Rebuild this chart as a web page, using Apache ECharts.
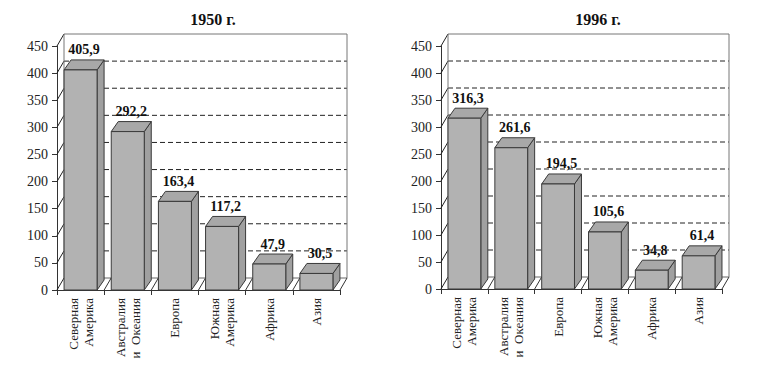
<!DOCTYPE html>
<html><head><meta charset="utf-8">
<script src="https://cdn.jsdelivr.net/npm/echarts@6/dist/echarts.min.js"></script>
<style>html,body{margin:0;padding:0;background:#fff}#c{width:769px;height:369px}</style>
</head><body><div id="c"></div>
<script>
const categories = ['Северная\nАмерика', 'Австралия\nи  Океания', 'Европа', 'Южная\nАмерика', 'Африка', 'Азия'];
const values1950 = [405.9, 292.2, 163.4, 117.2, 47.9, 30.5];
const values1996 = [316.3, 261.6, 194.5, 105.6, 34.8, 61.4];
const titles = ['1950 г.', '1996 г.'];
const yTicks = [0, 50, 100, 150, 200, 250, 300, 350, 400, 450];

const SERIF = 'Liberation Serif';
const WDX = 7, WDY = -12;   // wall depth
const BDX = 7, BDY = -10;   // bar depth
const FRONT = '#b2b2b2', TOP = '#a8a8a8', SIDE = '#a0a0a0', EDGE = '#3a3a3a';
const YMAX = yTicks[yTicks.length - 1];

function fmt(v) { return v.toFixed(1).replace('.', ','); }

function frameItem(params, api) {
  const v = api.value(1);
  const band = api.size([1, 0])[0];
  const n = categories.length;
  const p = api.coord([0, v]);
  const xl = p[0] - band / 2;
  const xr = xl + band * n;
  const y = p[1];
  const ch = [];
  ch.push({ type: 'line', shape: { x1: xl, y1: y, x2: xl + WDX, y2: y + WDY }, style: { stroke: '#222', lineWidth: 1 } });
  if (v === 0) {
    ch.push({ type: 'line', shape: { x1: xl + WDX, y1: y + WDY, x2: xr + WDX, y2: y + WDY }, style: { stroke: '#666', lineWidth: 1 } });
    for (let i = 1; i <= n; i++) {
      const x = xl + band * i;
      ch.push({ type: 'line', shape: { x1: x, y1: y, x2: x + WDX, y2: y + WDY }, style: { stroke: '#333', lineWidth: 1 } });
    }
  } else if (v === YMAX) {
    const y0 = api.coord([0, 0])[1];
    ch.push({ type: 'line', shape: { x1: xl + WDX, y1: y + WDY, x2: xr + WDX, y2: y + WDY }, style: { stroke: '#777', lineWidth: 1 } });
    ch.push({ type: 'line', shape: { x1: xl + WDX, y1: y + WDY, x2: xl + WDX, y2: y0 + WDY }, style: { stroke: '#777', lineWidth: 1 } });
    ch.push({ type: 'line', shape: { x1: xr + WDX, y1: y + WDY, x2: xr + WDX, y2: y0 + WDY }, style: { stroke: '#777', lineWidth: 1 } });
  } else {
    ch.push({ type: 'line', shape: { x1: xl + WDX, y1: y + WDY, x2: xr + WDX, y2: y + WDY }, style: { stroke: '#222', lineWidth: 1, lineDash: [5, 3] } });
  }
  return { type: 'group', children: ch };
}

function barItem(params, api) {
  const ci = api.value(0), v = api.value(1);
  const base = api.coord([ci, 0]);
  const top = api.coord([ci, v]);
  const band = api.size([1, 0])[0];
  const w = band * 0.70;
  const x0 = base[0] - w / 2, x1 = base[0] + w / 2, yb = base[1], yt = top[1];
  return { type: 'group', children: [
    { type: 'polygon', shape: { points: [[x1, yb], [x1 + BDX, yb + BDY], [x1 + BDX, yt + BDY], [x1, yt]] }, style: { fill: SIDE, stroke: EDGE, lineWidth: 1 } },
    { type: 'polygon', shape: { points: [[x0, yt], [x1, yt], [x1 + BDX, yt + BDY], [x0 + BDX, yt + BDY]] }, style: { fill: TOP, stroke: EDGE, lineWidth: 1 } },
    { type: 'rect', shape: { x: x0, y: yt, width: w, height: yb - yt }, style: { fill: FRONT, stroke: EDGE, lineWidth: 1 } },
    { type: 'text', style: { text: fmt(v), x: base[0] + BDX / 2, y: yt + BDY - 3, align: 'center', verticalAlign: 'bottom', fontFamily: SERIF, fontSize: 14, fontWeight: 'bold', fill: '#111' } }
  ] };
}

const grids = [
  { left: 57, right: 429, top: 46, bottom: 79 },
  { left: 441, right: 47, top: 46, bottom: 80 }
];
const datasets = [values1950, values1996];

const option = {
  animation: false,
  backgroundColor: '#fff',
  textStyle: { fontFamily: SERIF },
  title: titles.map((t, i) => ({
    text: t, left: i === 0 ? 208 : 593, top: 6, textAlign: 'center',
    textStyle: { fontFamily: SERIF, fontSize: 16, fontWeight: 'bold', color: '#111' }
  })),
  grid: grids,
  xAxis: grids.map((g, i) => ({
    type: 'category', gridIndex: i, data: categories,
    axisLine: { show: true, lineStyle: { color: '#333', width: 1 } },
    axisTick: { show: true, length: 5, lineStyle: { color: '#333' } },
    axisLabel: { rotate: 90, margin: 8, fontFamily: SERIF, fontSize: 13, color: '#222', lineHeight: 15, interval: 0 },
    splitLine: { show: false }
  })),
  yAxis: grids.map((g, i) => ({
    type: 'value', gridIndex: i, min: 0, max: YMAX, interval: 50,
    axisLine: { show: true, lineStyle: { color: '#333', width: 1 } },
    axisTick: { show: true, length: 5, lineStyle: { color: '#333' } },
    axisLabel: { margin: 9, fontFamily: SERIF, fontSize: 14, color: '#222' },
    splitLine: { show: false }
  })),
  series: []
};

datasets.forEach((vals, i) => {
  option.series.push({
    type: 'custom', xAxisIndex: i, yAxisIndex: i, z: 1, silent: true, clip: false,
    renderItem: frameItem, encode: { x: 0, y: 1 },
    data: yTicks.map(v => [0, v])
  });
  option.series.push({
    type: 'custom', xAxisIndex: i, yAxisIndex: i, z: 3, silent: true, clip: false,
    renderItem: barItem, encode: { x: 0, y: 1 },
    data: vals.map((v, k) => [k, v])
  });
});

const chart = echarts.init(document.getElementById('c'), null, { renderer: 'svg', width: 769, height: 369 });
chart.setOption(option);
</script>
</body></html>
